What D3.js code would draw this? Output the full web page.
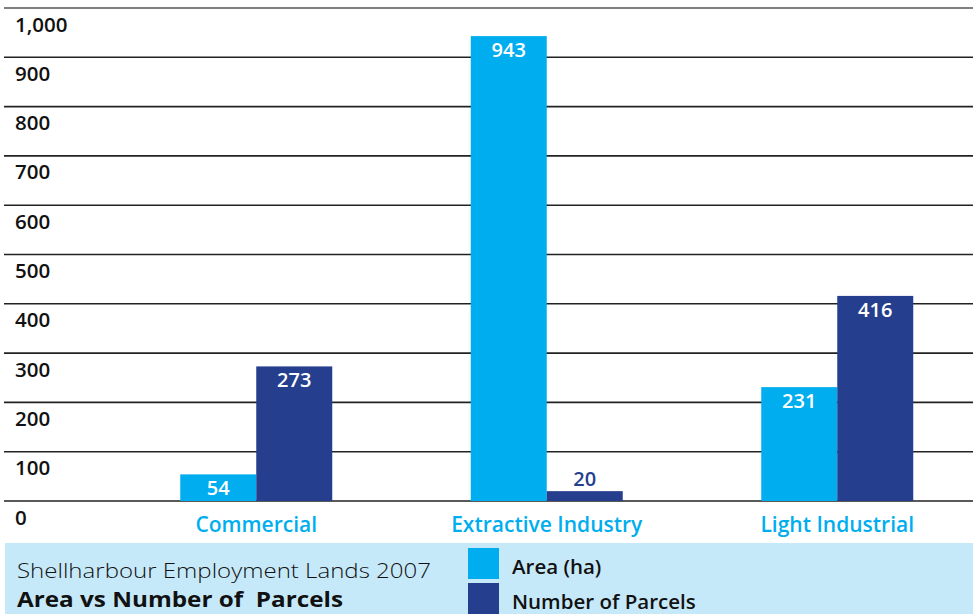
<!DOCTYPE html>
<html>
<head>
<meta charset="utf-8">
<script src="https://cdn.jsdelivr.net/npm/d3@7"></script>
<style>
  body { margin: 0; background: #fff; }
  text { font-family: "Open Sans", sans-serif; }
</style>
</head>
<body>
<script>
// data
var categories = ["Commercial", "Extractive Industry", "Light Industrial"];
var seriesNames = ["Area (ha)", "Number of Parcels"];
var areaValues = [54, 943, 231];
var parcelValues = [273, 20, 416];
var tickValues = [0, 100, 200, 300, 400, 500, 600, 700, 800, 900, 1000];

var svgWidth = 973;
var svgHeight = 614;
var colors = ["#00aeef", "#253f8e"];

var svg = d3.select("body").append("svg")
  .attr("width", svgWidth)
  .attr("height", svgHeight);

var y = d3.scaleLinear().domain([0, 1000]).range([501, 8]);
var x0 = d3.scaleBand().domain(categories).range([111, 982.5]);
var x1 = d3.scaleBand().domain(seriesNames).range([-76, 76]);

// grid lines
svg.append("g").selectAll("line")
  .data(tickValues)
  .enter().append("line")
  .attr("x1", 4).attr("x2", 973)
  .attr("y1", d => y(d)).attr("y2", d => y(d))
  .attr("stroke", d => d === 1000 ? "#555" : "#222")
  .attr("stroke-width", 1.6);

// tick labels sit under their line
svg.append("g").selectAll("text")
  .data(tickValues)
  .enter().append("text")
  .attr("x", 15)
  .attr("y", d => y(d) + 23.5)
  .attr("font-size", 20.5)
  .attr("font-weight", 600)
  .attr("fill", "#111")
  .text(d => d3.format(",")(d));

var rows = categories.map((c, i) => ({ cat: c, vals: [areaValues[i], parcelValues[i]] }));

var groups = svg.selectAll(".grp")
  .data(rows)
  .enter().append("g")
  .attr("transform", d => `translate(${x0(d.cat) + x0.bandwidth() / 2},0)`);

groups.selectAll("rect")
  .data(d => d.vals.map((v, j) => ({ name: seriesNames[j], v: v, j: j })))
  .enter().append("rect")
  .attr("x", d => x1(d.name))
  .attr("width", x1.bandwidth())
  .attr("y", d => y(d.v))
  .attr("height", d => y(0) - y(d.v))
  .attr("fill", d => colors[d.j]);

// value labels: inside the bar when it fits, above it otherwise
groups.selectAll(".val")
  .data(d => d.vals.map((v, j) => ({ name: seriesNames[j], v: v, j: j })))
  .enter().append("text")
  .attr("x", d => x1(d.name) + x1.bandwidth() / 2)
  .attr("y", d => (y(0) - y(d.v) > 24) ? y(d.v) + 21 : y(d.v) - 5)
  .attr("text-anchor", "middle")
  .attr("font-size", 20)
  .attr("font-weight", 600)
  .attr("fill", d => (y(0) - y(d.v) > 24) ? "#fff" : colors[d.j])
  .text(d => d.v);

// category labels
svg.append("g").selectAll("text")
  .data(categories)
  .enter().append("text")
  .attr("x", d => x0(d) + x0.bandwidth() / 2)
  .attr("y", 532)
  .attr("text-anchor", "middle")
  .attr("font-size", 21)
  .attr("font-weight", 600)
  .attr("fill", colors[0])
  .text(d => d);

// title / legend band
svg.append("rect")
  .attr("x", 5).attr("y", 543)
  .attr("width", 968).attr("height", 71)
  .attr("fill", "#c6e9f9");

svg.append("text")
  .attr("x", 17).attr("y", 577.5)
  .attr("font-size", 21)
  .attr("font-weight", 300)
  .attr("fill", "#111")
  .attr("textLength", 414)
  .attr("lengthAdjust", "spacingAndGlyphs")
  .text("Shellharbour Employment Lands 2007");

svg.append("text")
  .attr("x", 17).attr("y", 606.5)
  .attr("font-size", 21)
  .attr("font-weight", 700)
  .attr("fill", "#111")
  .attr("textLength", 326)
  .attr("lengthAdjust", "spacingAndGlyphs")
  .style("white-space", "pre")
  .text("Area vs Number of  Parcels");

var legend = svg.append("g").selectAll("g")
  .data(seriesNames)
  .enter().append("g")
  .attr("transform", (d, i) => `translate(468,${548 + i * 35})`);

legend.append("rect")
  .attr("width", 31).attr("height", 31)
  .attr("fill", (d, i) => colors[i]);

legend.append("text")
  .attr("x", 44).attr("y", 26)
  .attr("font-size", 20.5)
  .attr("font-weight", 600)
  .attr("fill", "#111")
  .text(d => d);
</script>
</body>
</html>
